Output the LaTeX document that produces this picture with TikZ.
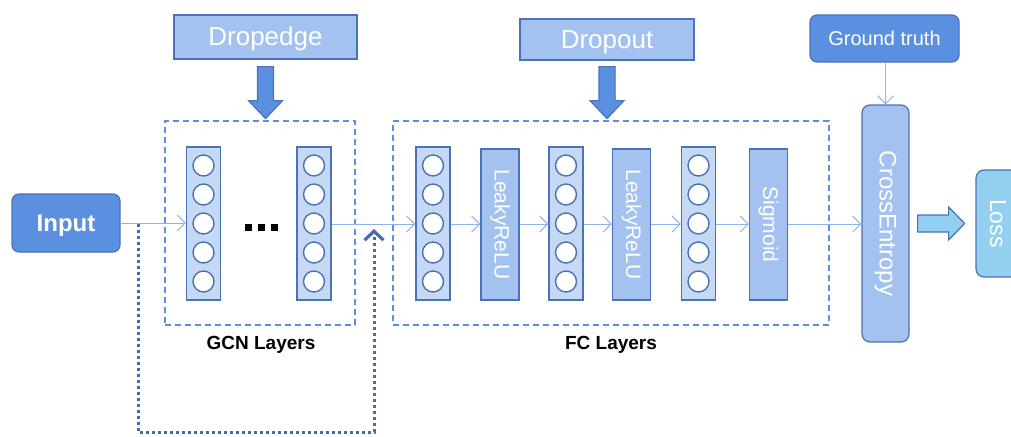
\documentclass[tikz,border=0pt]{standalone}
\usepackage{fontspec}
\setmainfont{Liberation Sans}
\usetikzlibrary{arrows.meta}
\definecolor{midblue}{HTML}{5B8FDF}
\definecolor{edgeblue}{HTML}{4A72B8}
\definecolor{paleblue}{HTML}{A4C2F0}
\definecolor{colfill}{HTML}{C5D8F4}
\definecolor{lineblue}{HTML}{8DB2EC}
\definecolor{dashblue}{HTML}{5C8FE0}
\definecolor{darkdot}{HTML}{4A6AAE}
\definecolor{skyfill}{HTML}{93CFEE}
\newcommand{\fsz}[1]{\fontsize{#1}{#1}\selectfont}

\begin{document}
\begin{tikzpicture}[x=1pt,y=-1pt,
  box/.style={draw=edgeblue, line width=1.2pt, inner sep=0pt, text=white},
  layercol/.style={draw=edgeblue, line width=1.2pt, fill=colfill, minimum width=34pt, minimum height=153pt, inner sep=0pt},
  neuron/.style={circle, draw=edgeblue, line width=1.4pt, fill=white, minimum size=21pt, inner sep=0pt},
  actbox/.style={box, fill=paleblue, minimum width=38pt, minimum height=151pt, font=\fsz{21}},
  dashbox/.style={draw=dashblue, line width=1.2pt, dash pattern=on 6pt off 4pt, minimum height=204pt, inner sep=0pt},
  flow/.style={draw=lineblue, line width=1pt, -{Straight Barb[length=8pt,width=16pt]}},
  blockarrow/.style={draw=edgeblue, line width=1.2pt, line join=miter},
  skip/.style={draw=darkdot, line width=3pt, dash pattern=on 3pt off 3pt, -{Straight Barb[length=9pt,width=19pt,line width=3.2pt]}},
  caption/.style={font=\bfseries\fsz{19}}
]
\useasboundingbox (0,0) rectangle (1011,436);

% dashed groups
\node[dashbox, minimum width=190pt] (gcnbox) at (260,223) {};
\node[dashbox, minimum width=436pt] (fcbox) at (611,223) {};
\node[caption] (gcnlabel) at (261,345) {GCN Layers};
\node[caption] (fclabel) at (611,345) {FC Layers};

% input and control boxes (text height/depth keep the capitals centred)
\node[box, text height=21.6pt, text depth=5pt, fill=midblue, rounded corners=7pt, minimum width=108pt, minimum height=58pt, font=\bfseries\fsz{24}] (input) at (66,223) {Input};
\node[box, text height=23.4pt, text depth=5.5pt, fill=paleblue, minimum width=183pt, minimum height=44pt, font=\fsz{26}] (dropedge) at (265.5,37) {Dropedge};
\node[box, text height=23.4pt, text depth=5.5pt, fill=paleblue, minimum width=174pt, minimum height=41pt, font=\fsz{26}] (dropout) at (607,39.5) {Dropout};
\node[box, text height=18pt, text depth=4.2pt, fill=midblue, rounded corners=7pt, minimum width=149pt, minimum height=47pt, font=\fsz{20}] (gt) at (884.5,38.5) {Ground truth};

% neuron columns
\foreach \n/\x in {g1/203.5, g2/314, f1/433, f2/566, f3/698.5}{
  \node[layercol] (\n) at (\x,223.5) {};
  \foreach \k in {1,...,5}{
    \node[neuron] (\n-\k) at (\x,136.5+29*\k) {};
  }
}
\node (dots) at (261.5,227) {\rule{7pt}{7pt}\hspace{6pt}\rule{7pt}{7pt}\hspace{6pt}\rule{7pt}{7pt}};

% activation boxes
\node[actbox] (l1) at (500,224.5) {\rotatebox{-90}{LeakyReLU}};
\node[actbox] (l2) at (631.5,224.5) {\rotatebox{-90}{LeakyReLU}};
\node[actbox] (sig) at (768.5,224.5) {\rotatebox{-90}{Sigmoid}};

% loss part
\node[box, fill=paleblue, rounded corners=8pt, minimum width=47pt, minimum height=237pt, font=\fsz{24}] (ce) at (885.5,223.5) {\rotatebox{-90}{CrossEntropy}};
\node[box, fill=skyfill, rounded corners=8pt, minimum width=44pt, minimum height=107pt, font=\fsz{23}] (loss) at (998,223.5) {\rotatebox{-90}{Loss}};

% data flow
\draw[flow] (input.east) -- (input.east -| g1.west);
\draw[flow] (g2.east |- 0,224) -- (f1.west |- 0,224);
\draw[flow] (f1.east |- 0,224) -- (l1.west |- 0,224);
\draw[flow] (l1.east |- 0,224) -- (f2.west |- 0,224);
\draw[flow] (f2.east |- 0,224) -- (l2.west |- 0,224);
\draw[flow] (l2.east |- 0,224) -- (f3.west |- 0,224);
\draw[flow] (f3.east |- 0,224) -- (sig.west |- 0,224);
\draw[flow] (sig.east |- 0,224) -- (ce.west |- 0,224);
\draw[flow] (gt.south -| ce.north) -- (ce.north);

% residual skip around the GCN layers
\coordinate (skipA) at (138,224);
\coordinate (skipB) at (374,229);
\draw[skip] (skipA) -- (138,432) -| (skipB);

% block arrows
\begin{scope}[shift={(dropedge.south)}]
  \draw[blockarrow, fill=midblue] (-8,7) -- (8,7) -- (8,41) -- (17,41) -- (0,59) -- (-17,41) -- (-8,41) -- cycle;
\end{scope}
\begin{scope}[shift={(dropout.south)}]
  \draw[blockarrow, fill=midblue] (-8,6) -- (8,6) -- (8,40) -- (17,40) -- (0,58) -- (-17,40) -- (-8,40) -- cycle;
\end{scope}
\begin{scope}[shift={(ce.east)}]
  \draw[blockarrow, fill=skyfill] (8,-8.5) -- (39,-8.5) -- (39,-16.5) -- (55,0) -- (39,16.5) -- (39,8.5) -- (8,8.5) -- cycle;
\end{scope}
\end{tikzpicture}
\end{document}
